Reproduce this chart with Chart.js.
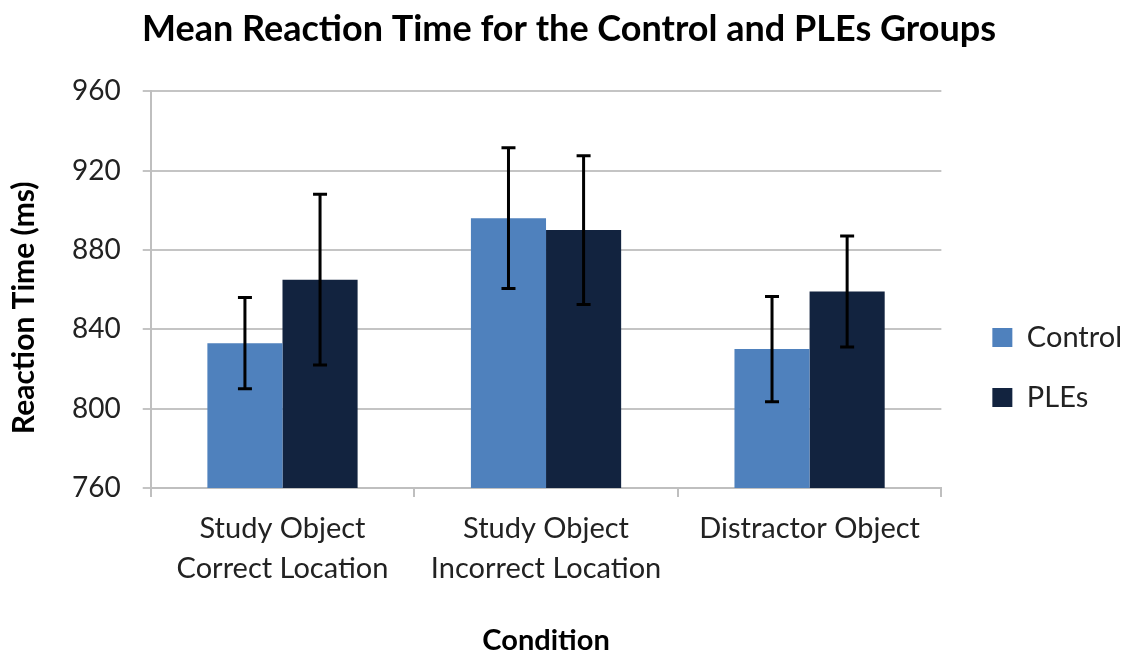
<!DOCTYPE html>
<html>
<head>
<meta charset="utf-8">
<script src="https://cdn.jsdelivr.net/npm/chart.js@4"></script>
<style>
html,body{margin:0;padding:0;background:#fff;}
#wrap{width:1135px;height:655px;}
</style>
</head>
<body>
<div id="wrap"><canvas id="c" width="1135" height="655"></canvas></div>
<script>
const categories = [["Study Object","Correct Location"],["Study Object","Incorrect Location"],["Distractor Object"]];
const seriesNames = ["Control","PLEs"];
const controlMeans = [833, 896, 830];
const plesMeans = [865, 890, 859];
const controlErr = [23, 35.5, 26.5];
const plesErr = [43, 37.5, 28];
const yTicks = [760, 800, 840, 880, 920, 960];

const FONT = "Lato, 'Open Sans', sans-serif";

const errorBars = {
  id: 'errorBars',
  afterDatasetsDraw(chart) {
    const ctx = chart.ctx;
    const ys = chart.scales.y;
    chart.data.datasets.forEach((ds, i) => {
      const meta = chart.getDatasetMeta(i);
      meta.data.forEach((el, j) => {
        const v = ds.data[j], e = ds.errors[j];
        const yt = ys.getPixelForValue(v + e), yb = ys.getPixelForValue(v - e);
        const x = el.x, cap = 7;
        ctx.save();
        ctx.strokeStyle = '#000';
        ctx.lineWidth = 3;
        ctx.beginPath();
        ctx.moveTo(x, yt); ctx.lineTo(x, yb);
        ctx.moveTo(x - cap, yt); ctx.lineTo(x + cap, yt);
        ctx.moveTo(x - cap, yb); ctx.lineTo(x + cap, yb);
        ctx.stroke();
        ctx.restore();
      });
    });
  }
};

new Chart(document.getElementById('c'), {
  type: 'bar',
  data: {
    labels: categories,
    datasets: [
      { label: seriesNames[0], data: controlMeans, errors: controlErr, backgroundColor: '#4F81BD', barPercentage: 1, categoryPercentage: 0.57 },
      { label: seriesNames[1], data: plesMeans, errors: plesErr, backgroundColor: '#12233F', barPercentage: 1, categoryPercentage: 0.57 }
    ]
  },
  options: {
    responsive: false,
    animation: false,
    layout: { padding: { left: 6, right: 3, top: 0, bottom: 0 } },
    plugins: {
      title: { display: true, text: 'Mean Reaction Time for the Control and PLEs Groups', color: '#000', font: { family: FONT, size: 36, weight: 'bold', lineHeight: 1.2 }, padding: { top: 8, bottom: 40 } },
      legend: {
        position: 'right',
        title: { display: true, text: ' ', font: { size: 10 }, padding: { top: 0, bottom: 68 } },
        labels: { color: '#222', font: { family: FONT, size: 29 }, boxWidth: 20, boxHeight: 19, padding: 31 }
      },
      tooltip: { enabled: false }
    },
    scales: {
      x: {
        grid: { drawOnChartArea: false, drawTicks: true, tickLength: 9, offset: true, color: '#BFBFBF', lineWidth: 2 },
        border: { color: '#BFBFBF', width: 2 },
        ticks: { color: '#222', font: { family: FONT, size: 29, lineHeight: 1.38 }, padding: 12 },
        title: { display: true, text: 'Condition', color: '#000', font: { family: FONT, size: 29, weight: 'bold', lineHeight: 1.0 }, padding: { top: 25, bottom: 0 } }
      },
      y: {
        min: 760, max: 960,
        afterBuildTicks(scale) { scale.ticks = yTicks.map(v => ({ value: v })); },
        grid: { color: '#C4C4C4', lineWidth: 2, tickLength: 8 },
        border: { color: '#BFBFBF', width: 2 },
        ticks: { color: '#222', font: { family: FONT, size: 28 }, padding: 22 },
        title: { display: true, text: 'Reaction Time (ms)     ', color: '#000', font: { family: FONT, size: 30, weight: 'bold' }, padding: { top: 0, bottom: 8 } }
      },
      gap: {
        type: 'linear', position: 'right', display: true,
        grid: { display: false }, border: { display: false }, ticks: { display: false },
        afterFit(scale) { scale.width = 20; }
      }
    }
  },
  plugins: [errorBars]
});
</script>
</body>
</html>
